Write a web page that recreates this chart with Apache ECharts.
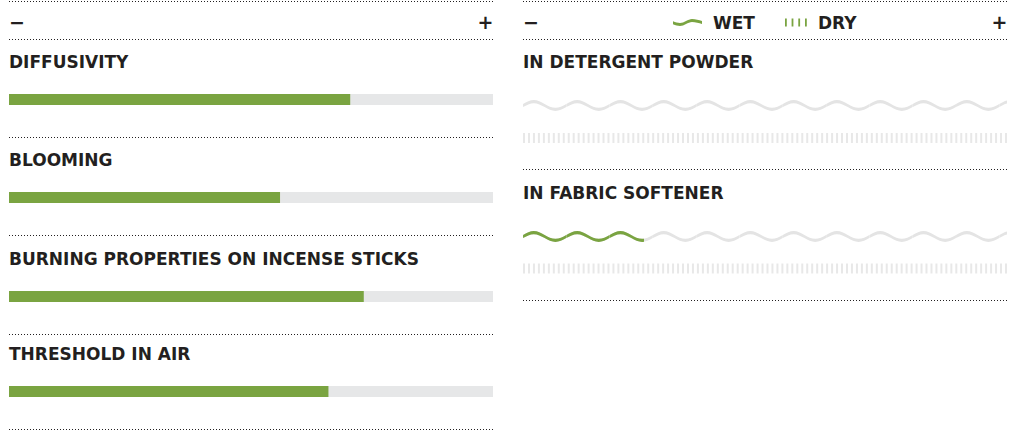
<!DOCTYPE html>
<html>
<head>
<meta charset="utf-8">
<script src="https://cdn.jsdelivr.net/npm/echarts@6/dist/echarts.min.js"></script>
<style>
html, body { margin: 0; padding: 0; background: #fff; }
#chart { width: 1010px; height: 433px; }
</style>
</head>
<body>
<div id="chart"></div>
<script>
// 左侧：香气属性（0-100）
var propNames = ['DIFFUSIVITY', 'BLOOMING', 'BURNING PROPERTIES ON INCENSE STICKS', 'THRESHOLD IN AIR'];
var propValues = [70.5, 56, 73.3, 66];
// 右侧：在洗涤产品中的表现
var mediaNames = ['IN DETERGENT POWDER', 'IN FABRIC SOFTENER'];
var wetValues = [0, 25];
var dryValues = [0, 0];
var scaleLabels = ['−', '+'];
var legendNames = ['WET', 'DRY'];
var axisMax = 100;

var FONT = '"DejaVu Sans", sans-serif';
var INK = '#231f20';
var GREEN = '#7aa441';
var TRACK = '#e6e7e8';
var WAVE_GRAY = '#e4e4e4';
var DRY_GRAY = '#e8e8e8';

// 布局
var leftX = 9, rightX = 523, panelW = 484;
var propBarTop = [94, 192, 291, 386];
var barH = 11;
var waveMid = [105.5, 236.5];
var dryMid = [138, 268.5];
var leftRules = [1.5, 39.5, 137.5, 235.5, 334.5, 429.5];
var rightRules = [1.5, 39.5, 169.5, 300.5];

// 波浪符号：一个周期
var wavePeriod = 43.3, waveH = 10.6, waveRepeat = 12;
var waveBound = axisMax * wavePeriod * waveRepeat / panelW;
var wavePath = 'path://M0,38C35.3,18.5 71,0 108.25,0C145.5,0 181.2,18.5 216.5,38C251.8,57.5 287.5,76 324.75,76C362,76 397.7,57.5 433,38' +
  'L433,68C397.7,87.5 362,106 324.75,106C287.5,106 251.8,87.5 216.5,68C181.2,48.5 145.5,30 108.25,30C71,30 35.3,48.5 0,68Z';
var wetIcon = 'path://M0,23C25,35 48,40 70,40C110,40 150,0 190,0C225,0 260,10 290,20' +
  'L290,50C260,40 225,30 190,30C150,30 110,70 70,70C48,70 25,65 0,53Z';
var dryIcon = 'path://M0,0h18v80h-18z M66,0h18v80h-18z M133,0h18v80h-18z M200,0h18v80h-18z';

var grids = [], xAxes = [], yAxes = [], series = [];

function addGrid(left, top, height, name, gap) {
  var i = grids.length;
  grids.push({ left: left, top: top, width: panelW, height: height });
  xAxes.push({ type: 'value', gridIndex: i, min: 0, max: axisMax, show: false });
  yAxes.push({
    type: 'category', gridIndex: i, data: [name],
    axisLine: { show: false }, axisTick: { show: false }, axisLabel: { show: false }, splitLine: { show: false },
    name: name, nameLocation: 'end', nameGap: gap,
    nameTextStyle: { align: 'left', verticalAlign: 'middle', color: INK, fontFamily: FONT, fontWeight: 'bold', fontSize: 17 }
  });
  return i;
}

propNames.forEach(function (name, k) {
  var g = addGrid(leftX, propBarTop[k], barH, name, 32.5);
  series.push({
    type: 'bar', name: 'prop', xAxisIndex: g, yAxisIndex: g,
    data: [propValues[k]], barWidth: barH, silent: true,
    itemStyle: { color: GREEN },
    showBackground: true, backgroundStyle: { color: TRACK }
  });
});

mediaNames.forEach(function (name, k) {
  var gw = addGrid(rightX, waveMid[k] - 5.5, 11, name, 38);
  var waveBase = {
    type: 'pictorialBar', xAxisIndex: gw, yAxisIndex: gw, silent: true,
    symbol: wavePath, symbolSize: [wavePeriod, waveH],
    symbolRepeat: waveRepeat, symbolMargin: 0, symbolClip: true,
    symbolBoundingData: waveBound
  };
  series.push(Object.assign({}, waveBase, { name: 'wet-track', data: [axisMax], itemStyle: { color: WAVE_GRAY }, z: 1 }));
  series.push(Object.assign({}, waveBase, { name: legendNames[0], data: [wetValues[k]], itemStyle: { color: GREEN }, z: 2 }));

  var gd = addGrid(rightX, dryMid[k] - 5, 10, '', 0);
  var dryBase = {
    type: 'pictorialBar', xAxisIndex: gd, yAxisIndex: gd, silent: true,
    symbol: 'rect', symbolSize: [2, 10],
    symbolRepeat: true, symbolMargin: 1.5, symbolClip: true,
    symbolBoundingData: axisMax
  };
  series.push(Object.assign({}, dryBase, { name: 'dry-track', data: [axisMax], itemStyle: { color: DRY_GRAY }, z: 1 }));
  series.push(Object.assign({}, dryBase, { name: legendNames[1], data: [dryValues[k]], itemStyle: { color: GREEN }, z: 2 }));
});

// 虚线分隔
var graphics = [];
function rule(x, y) {
  graphics.push({
    type: 'line', silent: true,
    shape: { x1: x, y1: y, x2: x + panelW, y2: y },
    style: { stroke: INK, lineWidth: 1, lineDash: [1, 2] }
  });
}
leftRules.forEach(function (y) { rule(leftX, y); });
rightRules.forEach(function (y) { rule(rightX, y); });

// 刻度 − / +
[leftX, rightX].forEach(function (x) {
  graphics.push({ type: 'text', silent: true, style: { text: scaleLabels[0], x: x, y: 21.5, align: 'left', verticalAlign: 'middle', fill: INK, font: 'bold 19px ' + FONT } });
  graphics.push({ type: 'text', silent: true, style: { text: scaleLabels[1], x: x + panelW + 0.5, y: 21.5, align: 'right', verticalAlign: 'middle', fill: INK, font: 'bold 19px ' + FONT } });
});

var legendText = { color: INK, fontFamily: FONT, fontWeight: 'bold', fontSize: 17, padding: [0, 0, 0, 6] };

var option = {
  animation: false,
  grid: grids,
  xAxis: xAxes,
  yAxis: yAxes,
  legend: [{
    data: [{ name: legendNames[0], icon: wetIcon }],
    left: 673, top: 14, padding: 0, itemWidth: 29, itemHeight: 7,
    selectedMode: false, textStyle: legendText
  }, {
    data: [{ name: legendNames[1], icon: dryIcon }],
    left: 785, top: 14, padding: 0, itemWidth: 22, itemHeight: 8,
    selectedMode: false, textStyle: legendText
  }],
  graphic: graphics,
  series: series
};

var chart = echarts.init(document.getElementById('chart'), null, { renderer: 'svg' });
chart.setOption(option);
</script>
</body>
</html>
